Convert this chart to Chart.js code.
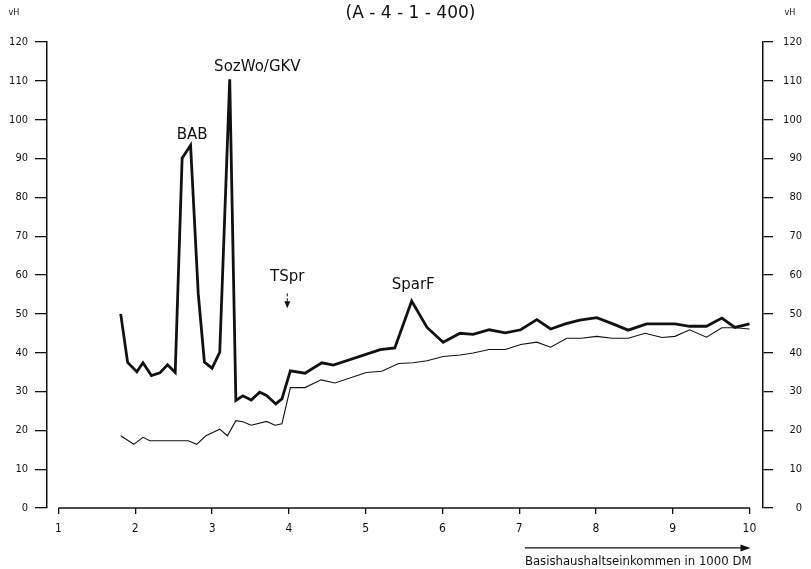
<!DOCTYPE html>
<html>
<head>
<meta charset="utf-8">
<script src="https://cdn.jsdelivr.net/npm/chart.js@4.4.1/dist/chart.umd.min.js"></script>
<style>
  html, body { margin: 0; padding: 0; background: #fff; }
  #wrap { width: 811px; height: 569px; }
</style>
</head>
<body>
<div id="wrap"><canvas id="chart"></canvas></div>
<script>
// tick values
var xTicks = [1, 2, 3, 4, 5, 6, 7, 8, 9, 10];

// thick line (upper series)
var upperX = [1.81, 1.90, 2.02, 2.10, 2.21, 2.32, 2.42, 2.52, 2.61, 2.72, 2.82, 2.90, 3.00, 3.10, 3.23,
  3.31, 3.40, 3.51, 3.62, 3.71, 3.83, 3.91, 4.02, 4.21, 4.43, 4.58, 5.19, 5.38, 5.60, 5.80,
  6.01, 6.23, 6.40, 6.61, 6.82, 7.02, 7.23, 7.41, 7.60, 7.79, 8.01, 8.22, 8.42, 8.66, 9.03,
  9.22, 9.44, 9.64, 9.81, 10.0];
var upperY = [50.0, 37.5, 35.1, 37.4, 34.1, 34.8, 36.9, 34.9, 90.1, 93.4, 55.2, 37.6, 36.0, 40.1, 110.4,
  27.7, 28.9, 27.8, 29.8, 29.0, 26.8, 28.1, 35.3, 34.7, 37.4, 36.8, 40.8, 41.2, 53.3, 46.5,
  42.7, 45.0, 44.7, 45.9, 45.1, 45.9, 48.5, 46.1, 47.4, 48.4, 49.0, 47.4, 45.8, 47.4, 47.4,
  46.8, 46.8, 48.9, 46.5, 47.4];

// thin line (lower series)
var lowerX = [1.81, 1.98, 2.10, 2.19, 2.32, 2.42, 2.52, 2.69, 2.80, 2.92, 3.10, 3.20, 3.31, 3.40, 3.51,
  3.71, 3.82, 3.91, 4.02, 4.21, 4.42, 4.60, 5.01, 5.21, 5.43, 5.62, 5.80, 6.01, 6.23, 6.40,
  6.61, 6.82, 7.02, 7.23, 7.41, 7.62, 7.81, 8.01, 8.21, 8.42, 8.64, 8.86, 9.03, 9.22, 9.44,
  9.64, 9.82, 10.0];
var lowerY = [18.6, 16.4, 18.2, 17.3, 17.3, 17.3, 17.3, 17.3, 16.4, 18.6, 20.3, 18.6, 22.5, 22.2, 21.3,
  22.3, 21.3, 21.7, 31.0, 31.0, 33.0, 32.2, 34.9, 35.2, 37.2, 37.4, 37.9, 39.0, 39.4, 39.9,
  40.8, 40.8, 42.1, 42.7, 41.4, 43.7, 43.7, 44.2, 43.7, 43.7, 45.0, 43.9, 44.2, 45.9, 44.0,
  46.4, 46.4, 46.1];

// annotations (anchored in data units)
var noteText = ["BAB", "SozWo/GKV", "TSpr", "SparF"];
var noteX = [2.74, 3.59, 3.98, 5.62];
var noteY = [96.0, 113.5, 59.4, 57.3];

var chartTitle = "(A - 4 - 1 - 400)";
var ink = "#111";
var tickFont = { family: "'DejaVu Sans Condensed', 'DejaVu Sans', sans-serif", size: 11 };

function pts(xs, ys) {
  return xs.map(function (x, i) { return { x: x, y: ys[i] }; });
}

// extra drawing: title, x axis line, notes, arrow, vH labels, axis title
var extras = {
  id: "extras",
  afterDraw: function (chart) {
    var ctx = chart.ctx;
    var xs = chart.scales.x, yl = chart.scales.y, yr = chart.scales.y2;
    var x1 = xs.getPixelForValue(xTicks[0]);
    var x2 = xs.getPixelForValue(xTicks[xTicks.length - 1]);
    var y0 = yl.getPixelForValue(0);
    ctx.save();
    ctx.strokeStyle = ink;
    ctx.fillStyle = ink;

    // title
    ctx.font = "17px 'DejaVu Sans', sans-serif";
    ctx.textAlign = "center";
    ctx.textBaseline = "middle";
    ctx.fillText(chartTitle, chart.width / 2 + 5, chart.chartArea.top - 28);

    ctx.lineWidth = 1.5;
    ctx.beginPath();
    ctx.moveTo(x1, y0);
    ctx.lineTo(x2 + 0.5, y0);
    ctx.stroke();

    // labels on the curves
    ctx.font = "15px 'DejaVu Sans', sans-serif";
    for (var i = 0; i < noteText.length; i++) {
      ctx.fillText(noteText[i], xs.getPixelForValue(noteX[i]), yl.getPixelForValue(noteY[i]));
    }

    // little arrow under TSpr
    var ax = xs.getPixelForValue(noteX[2]);
    var aTop = yl.getPixelForValue(noteY[2]) + 16;
    ctx.lineWidth = 1;
    ctx.setLineDash([3, 2]);
    ctx.beginPath();
    ctx.moveTo(ax, aTop);
    ctx.lineTo(ax, aTop + 9);
    ctx.stroke();
    ctx.setLineDash([]);
    ctx.beginPath();
    ctx.moveTo(ax - 3, aTop + 8);
    ctx.lineTo(ax + 3, aTop + 8);
    ctx.lineTo(ax, aTop + 15);
    ctx.closePath();
    ctx.fill();

    // vH
    ctx.font = "9px 'DejaVu Sans Condensed', sans-serif";
    ctx.fillText("vH", yl.left + 14, chart.chartArea.top - 29);
    ctx.fillText("vH", yr.left + 27, chart.chartArea.top - 29);

    // axis title with arrow
    var title = "Basishaushaltseinkommen in 1000 DM";
    ctx.font = "13px 'DejaVu Sans Condensed', sans-serif";
    ctx.textAlign = "right";
    ctx.fillText(title, x2 + 2, xs.bottom + 17);
    var w = ctx.measureText(title).width;
    var ay = xs.bottom + 3.5;
    ctx.lineWidth = 1.2;
    ctx.beginPath();
    ctx.moveTo(x2 + 2 - w, ay);
    ctx.lineTo(x2 - 6, ay);
    ctx.stroke();
    ctx.beginPath();
    ctx.moveTo(x2 + 1, ay);
    ctx.lineTo(x2 - 9, ay - 3.5);
    ctx.lineTo(x2 - 9, ay + 3.5);
    ctx.closePath();
    ctx.fill();
    ctx.restore();
  }
};

var ctx = document.getElementById("chart").getContext("2d");
var chart = new Chart(ctx, {
  type: "line",
  data: {
    datasets: [
      {
        label: "upper",
        data: pts(upperX, upperY),
        borderColor: ink,
        borderWidth: 2.8,
        pointRadius: 0,
        tension: 0,
        fill: false,
      },
      {
        label: "lower",
        data: pts(lowerX, lowerY),
        borderColor: ink,
        borderWidth: 1.1,
        pointRadius: 0,
        tension: 0,
        fill: false,
      },
    ],
  },
  options: {
    responsive: true,
    maintainAspectRatio: false,
    animation: false,
    layout: { padding: { top: 42, left: 0, right: 9, bottom: 24.6 } },
    plugins: {
      legend: { display: false },
      tooltip: { enabled: false },
      title: { display: false },
    },
    scales: {
      x: {
        type: "linear",
        min: 0.85,
        max: 10.176,
        afterBuildTicks: function (s) {
          s.ticks = xTicks.map(function (v) { return { value: v }; });
        },
        border: { display: false },
        grid: { drawOnChartArea: false, drawTicks: true, tickLength: 6, color: ink, lineWidth: 1.3 },
        ticks: { color: ink, font: { family: tickFont.family, size: 12 }, padding: 8, maxRotation: 0 },
      },
      y: {
        position: "left",
        min: 0,
        max: 120,
        afterFit: function (s) { s.width = 47; },
        border: { display: true, color: ink, width: 1.5 },
        grid: { drawOnChartArea: false, drawTicks: true, tickLength: 12, color: ink, lineWidth: 1.3 },
        ticks: { stepSize: 10, color: ink, font: tickFont, padding: 7 },
      },
      y2: {
        position: "right",
        min: 0,
        max: 120,
        afterFit: function (s) { s.width = 39; },
        border: { display: true, color: ink, width: 1.5 },
        grid: { drawOnChartArea: false, drawTicks: true, tickLength: 10, color: ink, lineWidth: 1.3 },
        ticks: { stepSize: 10, color: ink, font: tickFont, padding: 9, crossAlign: "far" },
      },
    },
  },
  plugins: [extras],
});
</script>
</body>
</html>
